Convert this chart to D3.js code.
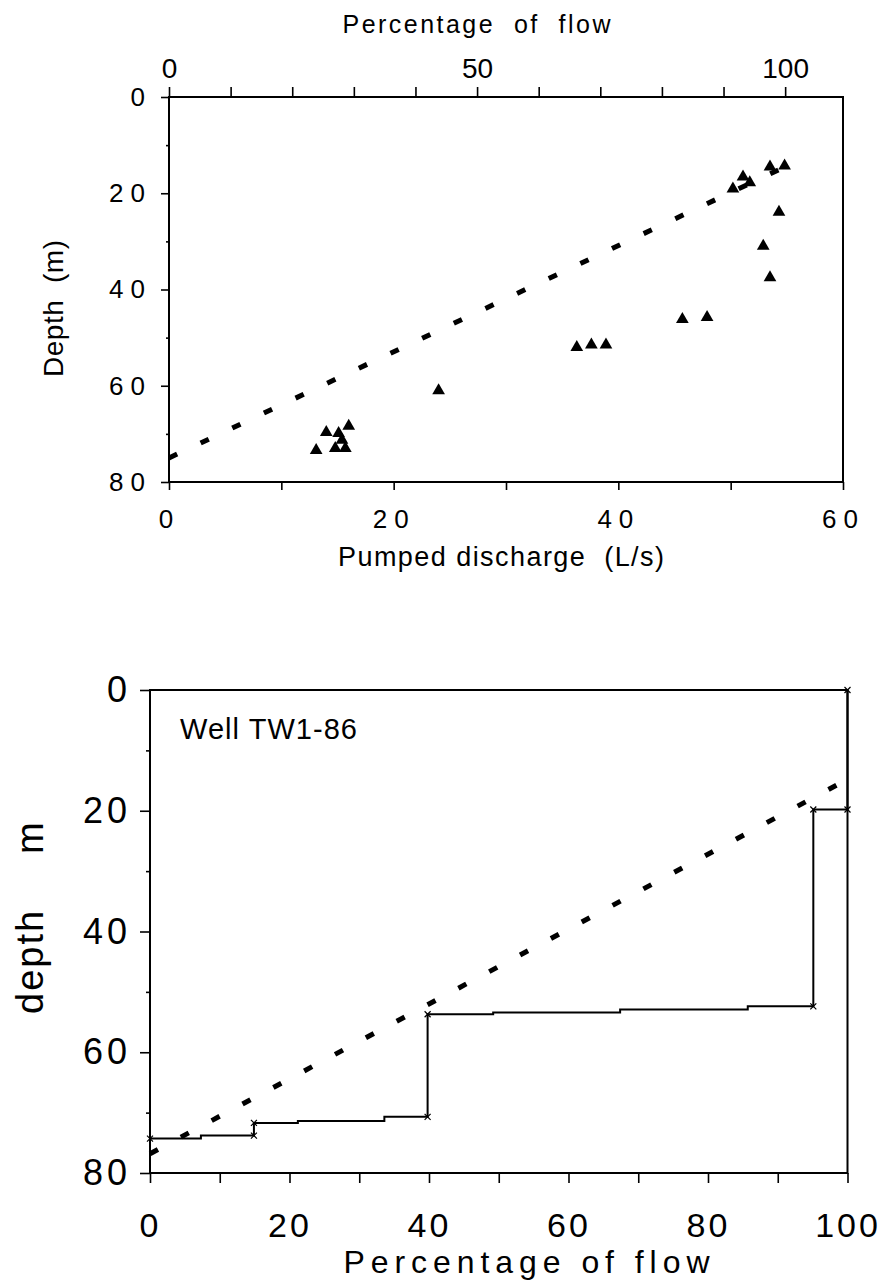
<!DOCTYPE html>
<html lang="en">
<head>
<meta charset="UTF-8">
<title>Pumped discharge and flow profile, Well TW1-86</title>
<script src="https://d3js.org/d3.v7.min.js"></script>
<style>
  body { margin: 0; background: #fff; }
  svg { display: block; font-family: 'Liberation Sans', Arial, sans-serif; }
  .axis path { display: none; }
  .axis line { stroke: #000; stroke-width: 1.6; }
  .axis text { fill: #000; font-family: 'Liberation Sans', Arial, sans-serif; }
  .frame { fill: none; stroke: #000; stroke-width: 2; }
  .title { fill: #000; white-space: pre; }
</style>
</head>
<body>
<svg width="883" height="1287"></svg>
<script>
// ---------- data ----------
const depthTicks = [0, 20, 40, 60, 80];
const depthMinor = [10, 30, 50, 70];
const dischargeTicks = [0, 10, 20, 30, 40, 50, 60];
const dischargeLabels = [0, 20, 40, 60];
const pctTicks = [0, 10, 20, 30, 40, 50, 60, 70, 80, 90, 100];
const pctTopLabels = [0, 50, 100];
const pctBottomLabels = [0, 20, 40, 60, 80, 100];
const maxDischarge = 54.85; // L/s read as 100 % of flow on the top axis

// top panel: measured points (triangles)
const triDischarge = [53.5, 54.8, 51.1, 51.7, 50.2, 54.3, 52.9, 53.5, 45.7, 47.9, 36.3, 37.6, 38.9, 24.0, 16.0, 14.0, 15.1, 15.4, 14.8, 15.7, 13.1];
const triDepth     = [14.5, 14.3, 16.6, 17.8, 19.1, 23.9, 31.0, 37.5, 46.2, 45.8, 52.0, 51.5, 51.5, 61.0, 68.4, 69.7, 69.9, 71.3, 73.0, 73.0, 73.4];

// dashed reference lines (percentage of flow vs depth)
const topTrendPct = [0, 100];
const topTrendDepth = [75, 14.5];
const botTrendPct = [0, 100];
const botTrendDepth = [76.8, 14.8];

// bottom panel: cumulative flow profile (step after)
const stepPct   = [0, 7.3, 14.9, 21.2, 33.6, 39.8, 49.2, 67.4, 85.7, 95.1, 100];
const stepDepth = [74.3, 73.8, 71.7, 71.4, 70.7, 53.7, 53.4, 52.9, 52.4, 19.8, 0];

// ---------- drawing ----------
const svg = d3.select("svg");

// ===== top panel =====
const xQ = d3.scaleLinear().domain([0, 60]).range([169, 843]);
const xP = d3.scaleLinear().domain([0, 100]).range([169, xQ(maxDischarge)]);
const yD = d3.scaleLinear().domain([0, 80]).range([97, 482]);

const topG = svg.append("g");

// top axis: percentage of flow
topG.append("g").attr("class", "axis")
  .attr("transform", `translate(0,${yD(0)})`)
  .call(d3.axisTop(xP).tickValues(pctTicks).tickSize(10).tickPadding(9)
    .tickFormat(d => pctTopLabels.includes(d) ? d : ""))
  .selectAll("text").style("font-size", "28px");

// left axis: depth
topG.append("g").attr("class", "axis")
  .attr("transform", `translate(${xQ(0)},0)`)
  .call(d3.axisLeft(yD).tickValues(depthTicks).tickSize(8).tickPadding(9))
  .selectAll("text").style("font-size", "26px").style("letter-spacing", "7px");
topG.append("g").attr("class", "axis")
  .attr("transform", `translate(${xQ(0)},0)`)
  .call(d3.axisLeft(yD).tickValues(depthMinor).tickSize(3).tickFormat(""));

// bottom axis: pumped discharge
topG.append("g").attr("class", "axis")
  .attr("transform", `translate(0,${yD(80)})`)
  .call(d3.axisBottom(xQ).tickValues(dischargeTicks).tickSize(8).tickPadding(20)
    .tickFormat(d => dischargeLabels.includes(d) ? d : ""))
  .selectAll("text").style("font-size", "26px").style("letter-spacing", "7px");

topG.append("rect").attr("class", "frame")
  .attr("x", xQ(0)).attr("y", yD(0))
  .attr("width", xQ(60) - xQ(0)).attr("height", yD(80) - yD(0));

// dashed trend
topG.append("path")
  .datum(d3.zip(topTrendPct, topTrendDepth))
  .attr("d", d3.line().x(d => xP(d[0])).y(d => yD(d[1])))
  .attr("fill", "none").attr("stroke", "#000")
  .attr("stroke-width", 5).attr("stroke-dasharray", "9 26");

// triangles
topG.selectAll(".tri")
  .data(d3.zip(triDischarge, triDepth))
  .join("path").attr("class", "tri")
  .attr("transform", d => `translate(${xQ(d[0])},${yD(d[1])})`)
  .attr("d", d3.symbol(d3.symbolTriangle, 70))
  .attr("fill", "#000");

// titles
topG.append("text").attr("class", "title")
  .attr("x", 476.5).attr("y", 33).attr("text-anchor", "middle")
  .attr("textLength", 268).attr("lengthAdjust", "spacing")
  .style("font-size", "25px").text("Percentage  of  flow");
topG.append("text").attr("class", "title")
  .attr("x", 501).attr("y", 566).attr("text-anchor", "middle")
  .attr("textLength", 326).attr("lengthAdjust", "spacing")
  .style("font-size", "27px").text("Pumped discharge  (L/s)");
topG.append("text").attr("class", "title")
  .attr("transform", "translate(63,308.5) rotate(-90)").attr("text-anchor", "middle")
  .attr("textLength", 137).attr("lengthAdjust", "spacing")
  .style("font-size", "28px").text("Depth  (m)");

// ===== bottom panel =====
const xP2 = d3.scaleLinear().domain([0, 100]).range([150, 847.5]);
const yD2 = d3.scaleLinear().domain([0, 80]).range([690, 1173]);

const botG = svg.append("g");

botG.append("g").attr("class", "axis")
  .attr("transform", `translate(${xP2(0)},0)`)
  .call(d3.axisLeft(yD2).tickValues(depthTicks).tickSize(10).tickPadding(9))
  .selectAll("text").style("font-size", "36px").style("letter-spacing", "4px");
botG.append("g").attr("class", "axis")
  .attr("transform", `translate(${xP2(0)},0)`)
  .call(d3.axisLeft(yD2).tickValues(depthMinor).tickSize(4).tickFormat(""));

botG.append("g").attr("class", "axis")
  .attr("transform", `translate(0,${yD2(80)})`)
  .call(d3.axisBottom(xP2).tickValues(pctTicks).tickSize(10).tickPadding(30)
    .tickFormat(d => pctBottomLabels.includes(d) ? d : ""))
  .selectAll("text").style("font-size", "34px").style("letter-spacing", "3px");

botG.append("rect").attr("class", "frame")
  .attr("x", xP2(0)).attr("y", yD2(0))
  .attr("width", xP2(100) - xP2(0)).attr("height", yD2(80) - yD2(0));

// dashed trend
botG.append("path")
  .datum(d3.zip(botTrendPct, botTrendDepth))
  .attr("d", d3.line().x(d => xP2(d[0])).y(d => yD2(d[1])))
  .attr("fill", "none").attr("stroke", "#000")
  .attr("stroke-width", 5).attr("stroke-dasharray", "9 26");

// step profile
const stepPts = d3.zip(stepPct, stepDepth);
botG.append("path")
  .datum(stepPts)
  .attr("d", d3.line().curve(d3.curveStepAfter).x(d => xP2(d[0])).y(d => yD2(d[1])))
  .attr("fill", "none").attr("stroke", "#000").attr("stroke-width", 2);

// small markers at the ends of the large jumps
const marks = [stepPts[0]];
stepPts.forEach((d, i) => {
  if (i > 0 && Math.abs(d[1] - stepPts[i - 1][1]) > 1) {
    marks.push([d[0], stepPts[i - 1][1]], d);
  }
});
botG.selectAll(".mk")
  .data(marks)
  .join("path").attr("class", "mk")
  .attr("transform", d => `translate(${xP2(d[0])},${yD2(d[1])})`)
  .attr("d", "M-3,-3L3,3M3,-3L-3,3")
  .attr("stroke", "#000").attr("stroke-width", 1.2);

// labels
botG.append("text").attr("class", "title")
  .attr("x", 180).attr("y", 739)
  .attr("textLength", 177).attr("lengthAdjust", "spacing")
  .style("font-size", "29px").text("Well TW1-86");
botG.append("text").attr("class", "title")
  .attr("x", 526.5).attr("y", 1273).attr("text-anchor", "middle")
  .attr("textLength", 366).attr("lengthAdjust", "spacing")
  .style("font-size", "32px").text("Percentage of flow");
const yl = botG.append("text").attr("class", "title")
  .attr("transform", "translate(43,1014) rotate(-90)")
  .style("font-size", "38px").style("letter-spacing", "2px");
yl.append("tspan").text("depth");
yl.append("tspan").attr("dx", 55).text("m");
</script>
</body>
</html>
